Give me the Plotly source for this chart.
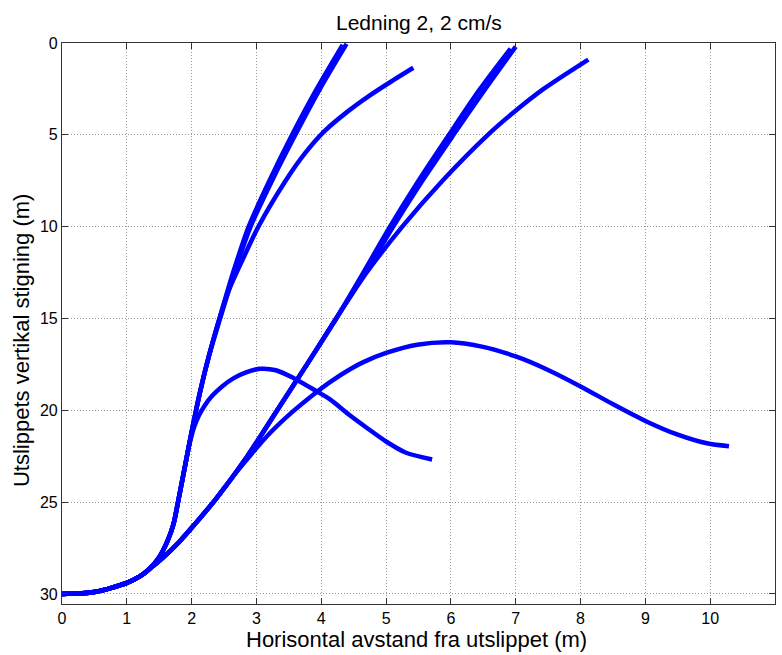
import plotly.graph_objects as go

# ---- data (x: horizontal distance m, y: vertical rise m) ----
x_a1 = [0, 0.5, 1.0, 1.2, 1.33, 1.5, 1.63, 1.72, 1.79, 1.9, 2.01, 2.13, 2.27, 2.43, 2.64, 2.88, 3.2, 3.55, 3.93, 4.33]
y_a1 = [30.0, 29.9, 29.4, 29.05, 28.7, 28.0, 27.1, 26.2, 25.0, 23.0, 21.0, 19.0, 17.0, 15.0, 12.5, 10.0, 7.5, 5.0, 2.5, 0.1]

x_a2 = [0, 0.5, 1.0, 1.2, 1.33, 1.5, 1.63, 1.72, 1.79, 1.9, 2.01, 2.13, 2.27, 2.44, 2.66, 2.91, 3.24, 3.6, 3.98, 4.39]
y_a2 = [30.0, 29.9, 29.4, 29.05, 28.7, 28.0, 27.1, 26.2, 25.0, 23.0, 21.0, 19.0, 17.0, 15.0, 12.5, 10.0, 7.5, 5.0, 2.5, 0.05]

x_b = [0, 0.5, 1.0, 1.2, 1.33, 1.5, 1.63, 1.72, 1.79, 1.9, 2.01, 2.13, 2.27, 2.43, 2.57, 2.76, 3.03, 3.45, 3.75, 4.05,
       4.4, 4.75, 5.1, 5.42]
y_b = [30.0, 29.9, 29.4, 29.05, 28.7, 28.0, 27.1, 26.2, 25.0, 23.0, 21.0, 19.0, 17.0, 15.0, 13.5, 12.0, 10.0, 7.5, 6.0, 4.8,
       3.75, 2.85, 2.05, 1.35]

x_c = [0, 0.5, 1.0, 1.2, 1.33, 1.5, 1.63, 1.72, 1.79, 1.9, 1.97, 2.04, 2.11, 2.2, 2.32, 2.47, 2.65, 2.85, 3.06, 3.3,
       3.57, 3.93, 4.14, 4.45, 4.7, 5.0, 5.3, 5.71]
y_c = [30.0, 29.9, 29.4, 29.05, 28.7, 28.0, 27.1, 26.2, 25.0, 23.0, 21.8, 20.9, 20.3, 19.75, 19.2, 18.7, 18.25, 17.92, 17.74, 17.82,
       18.24, 18.97, 19.42, 20.3, 20.95, 21.7, 22.3, 22.68]

x_d1 = [0, 0.5, 1.0, 1.2, 1.33, 1.55, 1.8, 2.05, 2.37, 2.86, 3.32, 3.78, 4.23, 4.65, 5.06, 5.5, 5.97, 6.45, 6.92]
y_d1 = [30.0, 29.9, 29.4, 29.05, 28.7, 28.05, 27.2, 26.2, 24.85, 22.5, 20.0, 17.5, 15.0, 12.5, 10.0, 7.5, 5.0, 2.5, 0.3]

x_d2 = [0, 0.5, 1.0, 1.2, 1.33, 1.55, 1.8, 2.05, 2.37, 2.86, 3.32, 3.78, 4.23, 4.68, 5.11, 5.56, 6.04, 6.53, 7.0]
y_d2 = [30.0, 29.9, 29.4, 29.05, 28.7, 28.05, 27.2, 26.2, 24.85, 22.5, 20.0, 17.5, 15.0, 12.5, 10.0, 7.5, 5.0, 2.5, 0.2]

x_e = [0, 0.5, 1.0, 1.2, 1.33, 1.55, 1.8, 2.05, 2.37, 2.86, 3.32, 3.78, 4.23, 4.7, 5.25, 5.87, 6.57, 6.96, 7.43, 8.12]
y_e = [30.0, 29.9, 29.4, 29.05, 28.7, 28.05, 27.2, 26.2, 24.85, 22.5, 20.0, 17.5, 15.0, 12.5, 10.0, 7.5, 5.0, 3.8, 2.5, 0.9]

x_f = [0, 0.5, 1.0, 1.2, 1.33, 1.55, 1.8, 2.05, 2.37, 2.65, 2.93, 3.22, 3.55, 3.93, 4.14, 4.45, 4.65, 5.0, 5.48, 6.0,
       6.46, 7.0, 7.49, 8.0, 8.51, 9.0, 9.5, 9.95, 10.29]
y_f = [30.0, 29.9, 29.4, 29.05, 28.7, 28.05, 27.2, 26.2, 24.85, 23.55, 22.35, 21.2, 20.1, 19.0, 18.45, 17.75, 17.38, 16.88, 16.43, 16.3,
       16.52, 17.07, 17.79, 18.7, 19.69, 20.58, 21.33, 21.8, 21.96]

x_ticks = list(range(0, 12))
y_ticks = [0, 5, 10, 15, 20, 25, 30]

title_text = "Ledning 2, 2 cm/s"
x_label = "Horisontal avstand fra utslippet (m)"
y_label = "Utslippets vertikal stigning (m)"

series = [(x_a1, y_a1), (x_a2, y_a2), (x_b, y_b), (x_c, y_c),
          (x_d1, y_d1), (x_d2, y_d2), (x_e, y_e), (x_f, y_f)]

FONT = "Liberation Sans, Arial, Helvetica, sans-serif"
BLUE = "#0000FF"

fig = go.Figure()
for xs, ys in series:
    fig.add_trace(go.Scatter(x=xs, y=ys, mode="lines",
                             line=dict(color=BLUE, width=4.5, shape="spline", smoothing=0.8),
                             showlegend=False, hoverinfo="skip"))

axis_common = dict(
    showgrid=True, gridcolor="#9a9a9a", griddash="1px,2px", gridwidth=1,
    zeroline=False, showline=True, linecolor="#333333", linewidth=1.2,
    mirror="ticks", ticks="inside", ticklen=6, tickcolor="#333333", tickwidth=1,
    tickfont=dict(family=FONT, size=16, color="black"),
)

fig.update_xaxes(range=[0, 11], tickvals=x_ticks, ticktext=[str(v) for v in x_ticks], **axis_common)
fig.update_yaxes(range=[30.55, 0], tickvals=y_ticks, ticktext=[str(v) for v in y_ticks], **axis_common)

fig.update_layout(
    width=782, height=655,
    margin=dict(l=62, r=7, t=43, b=51),
    paper_bgcolor="white", plot_bgcolor="white",
    font=dict(family=FONT, color="black"),
    annotations=[
        dict(text=title_text, xref="paper", yref="paper", x=0.5, y=1.036,
             xanchor="center", yanchor="middle", showarrow=False,
             font=dict(family=FONT, size=21, color="black")),
        dict(text=x_label, xref="paper", yref="paper", x=0.497, y=-0.0636,
             xanchor="center", yanchor="middle", showarrow=False,
             font=dict(family=FONT, size=22, color="black")),
        dict(text=y_label, xref="paper", yref="paper", x=-0.0565, y=0.47,
             xanchor="center", yanchor="middle", showarrow=False, textangle=-90,
             font=dict(family=FONT, size=22, color="black")),
    ],
)

fig.write_html("out.html", config={"displayModeBar": False},
               post_script="document.body.style.margin='0';document.body.style.padding='0';")
